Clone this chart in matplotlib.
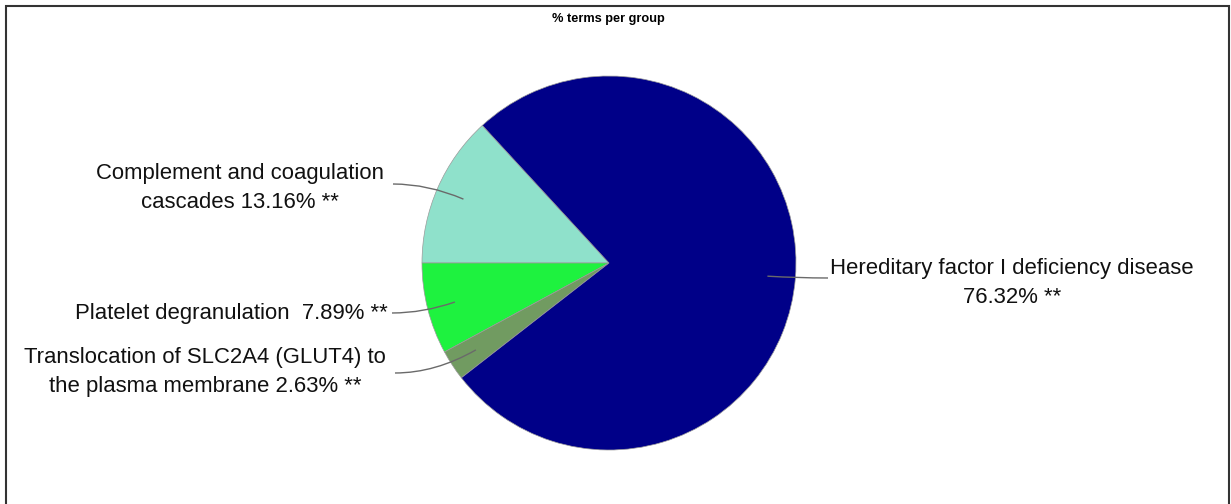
import numpy as np
import matplotlib
matplotlib.use("Agg")
import matplotlib.pyplot as plt
from matplotlib.path import Path
from matplotlib.patches import PathPatch, Rectangle

# data
groups = [
    "Complement and coagulation\ncascades",
    "Platelet degranulation ",
    "Translocation of SLC2A4 (GLUT4) to\nthe plasma membrane",
    "Hereditary factor I deficiency disease\n",
]
percent = [13.16, 7.89, 2.63, 76.32]
stars = ["**", "**", "**", "**"]
colors = ["#8FE1CB", "#1EF23F", "#719B61", "#000088"]

# layout (pixel coordinates, y measured from the top)
W, H = 1231, 504
center = (609, 263)
radius = 187
label_xy = [(384, 188), (388, 314), (386, 372), (830, 283)]
label_ha = ["right", "right", "right", "left"]
leader_start = [(393, 184), (392, 313), (395, 373), (828, 278)]

plt.rcParams["font.family"] = ["Liberation Sans", "DejaVu Sans"]

fig = plt.figure(figsize=(W / 100, H / 100), dpi=100)
ax = fig.add_axes([0, 0, 1, 1])

cx, cy = center[0], H - center[1]
start = 180 - percent[0] * 3.6
wedges, _ = ax.pie(
    percent,
    colors=colors,
    startangle=start,
    counterclock=True,
    center=(cx, cy),
    radius=radius,
    frame=True,
    wedgeprops=dict(edgecolor="#9a9a9a", linewidth=0.5),
)
ax.set_xlim(0, W)
ax.set_ylim(0, H)
ax.set_aspect("equal")
ax.axis("off")

for i, w in enumerate(wedges):
    mid = np.deg2rad((w.theta1 + w.theta2) / 2)
    ex = cx + 0.85 * radius * np.cos(mid)
    ey = cy + 0.85 * radius * np.sin(mid)
    sx, sy = leader_start[i][0], H - leader_start[i][1]
    ctrl = (sx + 0.5 * (ex - sx), sy)
    path = Path([(sx, sy), ctrl, (ex, ey)], [Path.MOVETO, Path.CURVE3, Path.CURVE3])
    ax.add_patch(PathPatch(path, fill=False, edgecolor="#6a6a6a", linewidth=1.0, zorder=5))

    name = groups[i]
    if name.endswith("\n"):
        txt = f"{name}{percent[i]:.2f}% {stars[i]}"
    else:
        txt = f"{name} {percent[i]:.2f}% {stars[i]}"
    lx, ly = label_xy[i]
    ax.text(lx, H - ly, txt, ha=label_ha[i], va="center", multialignment="center",
            fontsize=15.9, color="#111111", linespacing=1.45)

ax.text(608, H - 19, "% terms per group", ha="center", va="center",
        fontsize=9.2, fontweight="bold")

# figure border (open at the bottom)
ax.add_patch(Rectangle((6, -10), 1223, H - 6 + 10, fill=False,
                       edgecolor="#333333", linewidth=1.5, clip_on=False))

fig.savefig("out.png", dpi=100)
